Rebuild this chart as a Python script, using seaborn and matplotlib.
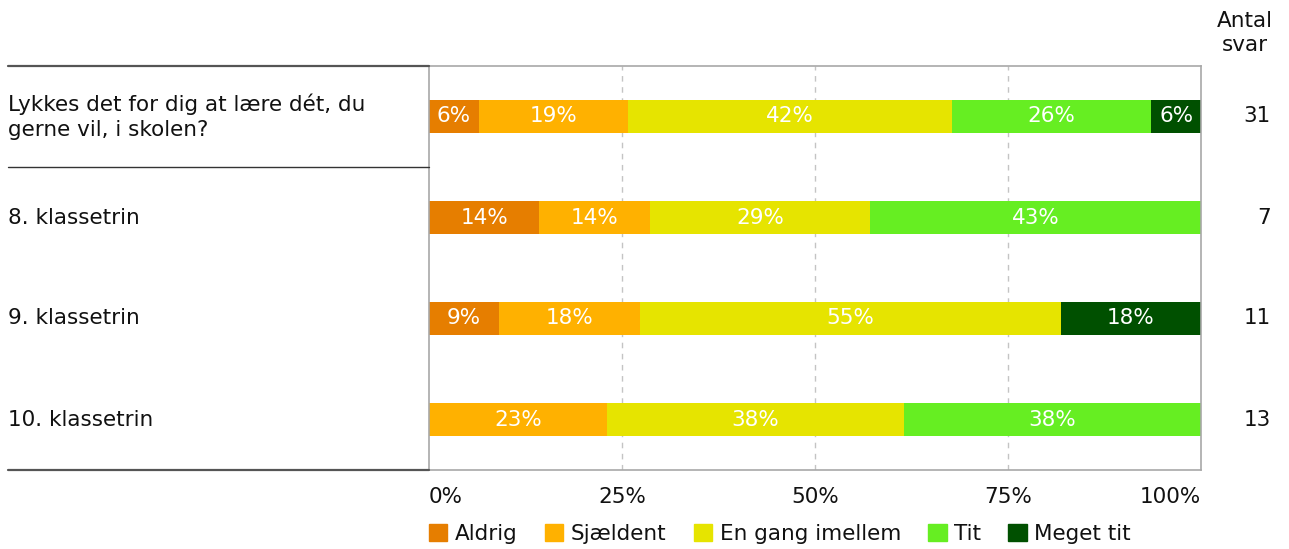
import matplotlib
matplotlib.use("Agg")
import matplotlib.pyplot as plt
import matplotlib.patches as mpatches
from matplotlib.lines import Line2D
import matplotlib.transforms as mtrans
import seaborn as sns
import pandas as pd
import numpy as np

categories = ["Lykkes det for dig at lære dét, du\ngerne vil, i skolen?",
              "8. klassetrin", "9. klassetrin", "10. klassetrin"]
responses = ["Aldrig", "Sjældent", "En gang imellem", "Tit", "Meget tit"]
aldrig    = [6.45, 14.29, 9.09, 0.0]
sjaeldent = [19.35, 14.29, 18.18, 23.08]
en_gang   = [41.94, 28.57, 54.55, 38.46]
tit       = [25.81, 42.86, 0.0, 38.46]
meget_tit = [6.45, 0.0, 18.18, 0.0]
antal_svar = [31, 7, 11, 13]
xticks = [0, 25, 50, 75, 100]
xtick_labels = ["0%", "25%", "50%", "75%", "100%"]
colors = ["#E67E00", "#FFB100", "#E6E400", "#66EE22", "#005000"]

series = [aldrig, sjaeldent, en_gang, tit, meget_tit]

sns.set_theme(style="white")
plt.rcParams['font.family'] = ['DejaVu Sans']
FS = 15.5

W, H = 1289, 549
fig = plt.figure(figsize=(W / 100, H / 100), dpi=100)
ax = fig.add_axes([429 / W, (H - 470) / H, 772 / W, 404 / H])

# long table with cumulative ends
rows = []
for ci, cat in enumerate(categories):
    cum = 0.0
    for ri, resp in enumerate(responses):
        start = cum
        cum += series[ri][ci]
        rows.append({"cat": cat, "resp": resp, "start": start, "val": series[ri][ci], "end": cum})
df = pd.DataFrame(rows)

hue_order = responses[::-1]
palette = dict(zip(responses, colors))
sns.barplot(data=df, x="end", y="cat", hue="resp", hue_order=hue_order,
            order=categories, palette=palette, dodge=False, width=0.327,
            orient="h", ax=ax, legend=False, saturation=1, linewidth=0)

# value labels
for _, r in df.iterrows():
    if r["val"] > 0:
        yi = categories.index(r["cat"])
        ax.text(r["start"] + r["val"] / 2, yi, f"{r['val']:.0f}%", ha="center", va="center",
                color="white", fontsize=FS)

ax.set_xlim(0, 100)
ax.set_ylim(3.5, -0.5)
ax.set_xlabel("")
ax.set_ylabel("")
ax.set_yticks([])
ax.set_xticks(xticks)
ax.set_xticklabels(xtick_labels, fontsize=FS, color="#111111")
ax.tick_params(axis="x", length=0, pad=12)
tl = ax.get_xticklabels()
tl[0].set_ha("left")
tl[-1].set_ha("right")
for x in xticks[1:-1]:
    ax.axvline(x, color="#c4c4c4", linestyle=(0, (4, 4)), linewidth=1, zorder=0)
for s in ax.spines.values():
    s.set_color("#a8a8a8")
    s.set_linewidth(1.2)
    s.set_visible(True)

# category labels
trans = mtrans.blended_transform_factory(fig.transFigure, ax.transData)
for ci, cat in enumerate(categories):
    ax.text(8 / W, ci, cat, transform=trans, ha="left", va="center", fontsize=FS,
            color="#111111", linespacing=1.3)
    ax.text(1271 / W, ci, str(antal_svar[ci]), transform=trans, ha="right", va="center",
            fontsize=FS, color="#111111")

fig.text(1245 / W, 1 - 33 / H, "Antal\nsvar", ha="center", va="center", fontsize=FS,
         color="#111111", linespacing=1.3)

# separator lines at left
def hline(ypx, color, lw):
    fig.add_artist(Line2D([8 / W, 429 / W], [1 - ypx / H, 1 - ypx / H], color=color,
                          linewidth=lw, transform=fig.transFigure))
hline(66, "#555555", 1.6)
hline(167, "#333333", 1.0)
hline(470, "#555555", 1.6)

handles = [mpatches.Patch(color=c, label=r) for r, c in zip(responses, colors)]
fig.legend(handles=handles, loc="center left", bbox_to_anchor=(429 / W, 15 / H),
           bbox_transform=fig.transFigure, ncol=5, frameon=False, fontsize=FS,
           handlelength=0.85, handleheight=0.85, handletextpad=0.35, columnspacing=1.27,
           borderpad=0, borderaxespad=0, labelcolor="#111111")

fig.savefig("out.png", dpi=100)
